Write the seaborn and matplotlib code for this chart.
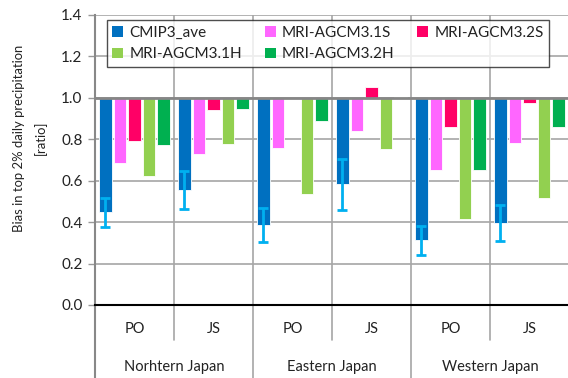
import matplotlib
matplotlib.use("Agg")
import matplotlib.pyplot as plt
import seaborn as sns
import pandas as pd
import numpy as np

# Sub-regions (level 1) and regions (level 2)
sub_labels = ["PO", "JS", "PO", "JS", "PO", "JS"]
region_labels = ["Norhtern Japan", "Eastern Japan", "Western Japan"]
categories = ["N-PO", "N-JS", "E-PO", "E-JS", "W-PO", "W-JS"]

models = ["CMIP3_ave", "MRI-AGCM3.1S", "MRI-AGCM3.2S", "MRI-AGCM3.1H", "MRI-AGCM3.2H"]
colors = ["#0070C0", "#FF66FF", "#FF0066", "#92D050", "#00B050"]

cmip3_ave = [0.448, 0.557, 0.386, 0.583, 0.312, 0.396]
mri_31s = [0.684, 0.731, 0.758, 0.842, 0.654, 0.781]
mri_32s = [0.794, 0.943, 1.000, 1.051, 0.857, 0.974]
mri_31h = [0.622, 0.776, 0.535, 0.755, 0.414, 0.517]
mri_32h = [0.774, 0.948, 0.889, 1.005, 0.652, 0.857]

# CMIP3 ensemble spread (lower / upper ends of the whiskers)
cmip3_low = [0.378, 0.465, 0.303, 0.457, 0.242, 0.309]
cmip3_high = [0.515, 0.647, 0.470, 0.705, 0.382, 0.482]

baseline = 1.0
yticks = [0.0, 0.2, 0.4, 0.6, 0.8, 1.0, 1.2, 1.4]

series = [cmip3_ave, mri_31s, mri_32s, mri_31h, mri_32h]
rows = []
for m, vals in zip(models, series):
    for c, v in zip(categories, vals):
        rows.append({"category": c, "model": m, "ratio": v, "delta": v - baseline})
df = pd.DataFrame(rows)

sns.set_theme(style="white")
plt.rcParams["font.family"] = ["Lato", "DejaVu Sans"]

fig = plt.figure(figsize=(5.68, 3.78), dpi=100)
ax = fig.add_axes([95 / 568, 1 - 305 / 378, 474 / 568, 290 / 378])

# Bars hang from the 1.0 reference line
sns.barplot(data=df, x="category", y="delta", hue="model", order=categories,
            hue_order=models, palette=colors, width=0.92, gap=0.14,
            bottom=baseline, ax=ax, errorbar=None, saturation=1,
            edgecolor="white", linewidth=0.6, legend=False)

# Whiskers on the CMIP3 ensemble mean bars
cmip_bars = ax.containers[0]
xc = [p.get_x() + p.get_width() / 2 for p in cmip_bars]
avg = np.array(cmip3_ave)
yerr = np.vstack([avg - np.array(cmip3_low), np.array(cmip3_high) - avg])
ax.errorbar(xc, avg, yerr=yerr, fmt="none", ecolor="#00B0F0",
            elinewidth=2, capsize=3.5, capthick=2, zorder=5)

ax.set_xlim(-0.5, 5.5)
ax.set_ylim(0, 1.4)
ax.set_yticks(yticks)
ax.set_yticklabels([f"{t:.1f}" for t in yticks], fontsize=11, color="#222222")
ax.tick_params(axis="y", length=5, width=1, color="#999999", left=True, pad=4)
ax.set_xticks([])
ax.set_xlabel("")
ax.set_ylabel("")

# Grid: horizontal at each tick, vertical at category boundaries
for t in yticks[1:]:
    ax.axhline(t, color="#A6A6A6", lw=1.2, zorder=0)
for b in np.arange(0.5, 5.5, 1.0):
    ax.axvline(b, color="#A6A6A6", lw=1.2, zorder=0)
ax.axhline(baseline, color="#868686", lw=2.0, zorder=4)

for s in ["top", "right"]:
    ax.spines[s].set_visible(False)
ax.spines["left"].set_color("#888888")
ax.spines["left"].set_linewidth(1.5)
ax.spines["bottom"].set_color("black")
ax.spines["bottom"].set_linewidth(1.5)

# Two-level category axis below the plot
trans = ax.get_xaxis_transform()
y_sub = -(329 - 305) / 290
y_reg = -(367 - 305) / 290
y_sub_line = -(340 - 305) / 290
y_bottom = -(378 - 305) / 290
for i, lab in enumerate(sub_labels):
    ax.text(i, y_sub, lab, transform=trans, ha="center", va="center",
            fontsize=10.5, color="#222222")
for j, lab in enumerate(region_labels):
    ax.text(2 * j + 0.5, y_reg, lab, transform=trans, ha="center", va="center",
            fontsize=10.5, color="#222222")
for b in [0.5, 2.5, 4.5]:
    ax.plot([b, b], [0, y_sub_line], transform=trans, color="#A6A6A6",
            lw=1.2, clip_on=False)
for b in [-0.5, 1.5, 3.5, 5.5]:
    ax.plot([b, b], [0, y_bottom], transform=trans, color="#A6A6A6",
            lw=1.2, clip_on=False)
ax.plot([-0.5, -0.5], [0, y_bottom], transform=trans, color="#888888",
        lw=1.5, clip_on=False)

fig.text(30 / 568, 1 - 138 / 378, "Bias in top 2% daily precipitation\n[ratio]",
         rotation=90, ha="center", va="center", multialignment="center",
         fontsize=9.4, color="#222222", linespacing=1.75)

# Legend, filled row by row (matplotlib fills columns, so reorder entries)
order = [0, 3, 1, 4, 2]
handles = [plt.Rectangle((0, 0), 1, 1, facecolor=colors[i], edgecolor="none") for i in order]
labels = [models[i] for i in order]
leg = ax.legend(handles, labels, ncol=3, loc="upper left",
                bbox_to_anchor=((107 - 95) / 474, 1 - (67 - 15.5) / 290,
                                (549 - 107) / 474, (67 - 21) / 290),
                mode="expand", frameon=True, fancybox=False, fontsize=11,
                handlelength=0.7, handleheight=0.7, handletextpad=0.4,
                borderpad=0.35, labelspacing=0.5, columnspacing=1.0,
                borderaxespad=0)
leg.get_frame().set_edgecolor("#222222")
leg.get_frame().set_linewidth(1.0)
for t in leg.get_texts():
    t.set_color("#222222")

fig.savefig("out.png", dpi=100)
